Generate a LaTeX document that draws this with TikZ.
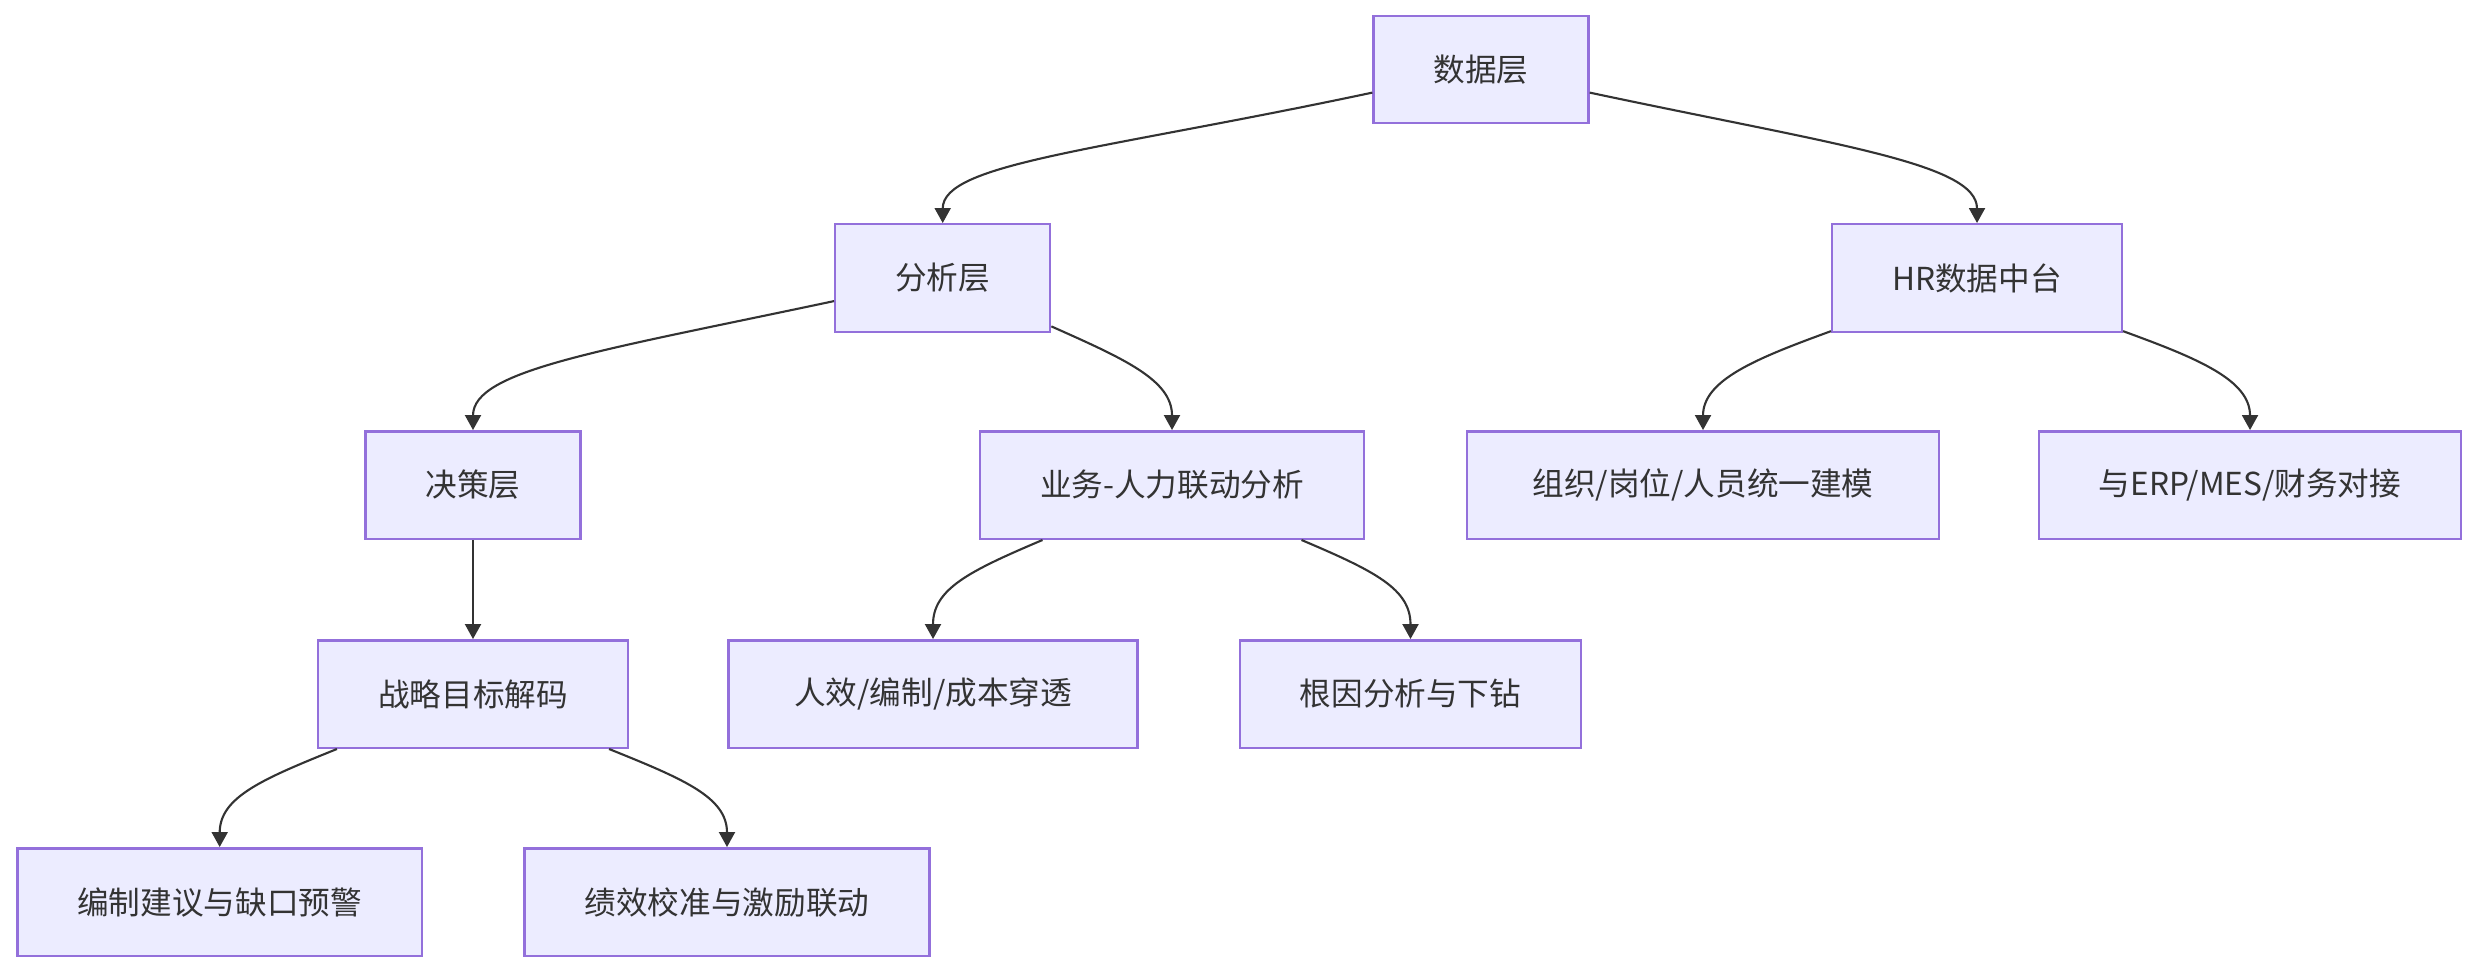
\documentclass[tikz,border=0pt]{standalone}
\usepackage{fontspec}
\usetikzlibrary{arrows.meta}
\newfontfamily\cjk{Noto Sans CJK SC}
\definecolor{nodefill}{HTML}{ECECFF}
\definecolor{nodeline}{HTML}{9370DB}
\definecolor{ink}{HTML}{333333}

\begin{document}
\begin{tikzpicture}[
    box/.style={draw=nodeline, fill=nodefill, line width=0.7pt,
      minimum height=1.075cm, inner xsep=0.6cm,
      font=\cjk\fontsize{9}{11}\selectfont, text=ink},
    arrow/.style={-{Triangle[length=0.15cm, width=0.16cm]}, line width=0.6pt, color=ink},
    fall/.style={in=90, in distance=#1},
    fall/.default=0.5cm
  ]
    \useasboundingbox (0,0) rectangle (24.78,-9.72);

    % Row 1: top layer
    \node[box] (data) at (14.81,-0.695) {数据层};

    % Row 2
    \node[box] (ana) at (9.427,-2.78) {分析层};
    \node[box] (hr) at (19.77,-2.78) {HR数据中台};

    % Row 3
    \node[box] (dec) at (4.73,-4.85) {决策层};
    \node[box] (biz) at (11.72,-4.85) {业务-人力联动分析};
    \node[box, minimum width=4.72cm] (org) at (17.03,-4.85) {组织/岗位/人员统一建模};
    \node[box, minimum width=4.2cm] (erp) at (22.50,-4.85) {与ERP/MES/财务对接};

    % Row 4
    \node[box] (str) at (4.73,-6.94) {战略目标解码};
    \node[box, minimum width=4.09cm] (eff) at (9.33,-6.94) {人效/编制/成本穿透};
    \node[box] (root) at (14.105,-6.94) {根因分析与下钻};

    % Row 5
    \node[box] (plan) at (2.197,-9.02) {编制建议与缺口预警};
    \node[box] (perf) at (7.27,-9.02) {绩效校准与激励联动};

    % Arrows
    \draw[arrow] (data) to[out=192, fall=0.6cm, out distance=2.8cm] (ana);
    \draw[arrow] (data) to[out=-12, fall=0.6cm, out distance=2.5cm] (hr);
    \draw[arrow] (ana) to[out=192, fall=0.6cm, out distance=2.4cm] (dec);
    \draw[arrow] (ana) to[out=-24, fall, out distance=0.8cm] (biz);
    \draw[arrow] (hr) to[out=200, fall, out distance=0.8cm] (org);
    \draw[arrow] (hr) to[out=-20, fall, out distance=0.8cm] (erp);
    \draw[arrow] (dec) -- (str);
    \draw[arrow] (biz) to[out=203, fall, out distance=0.8cm] (eff);
    \draw[arrow] (biz) to[out=-23, fall, out distance=0.8cm] (root);
    \draw[arrow] (str) to[out=202, fall, out distance=0.8cm] (plan);
    \draw[arrow] (str) to[out=-22, fall, out distance=0.8cm] (perf);
  \end{tikzpicture}
\end{document}
